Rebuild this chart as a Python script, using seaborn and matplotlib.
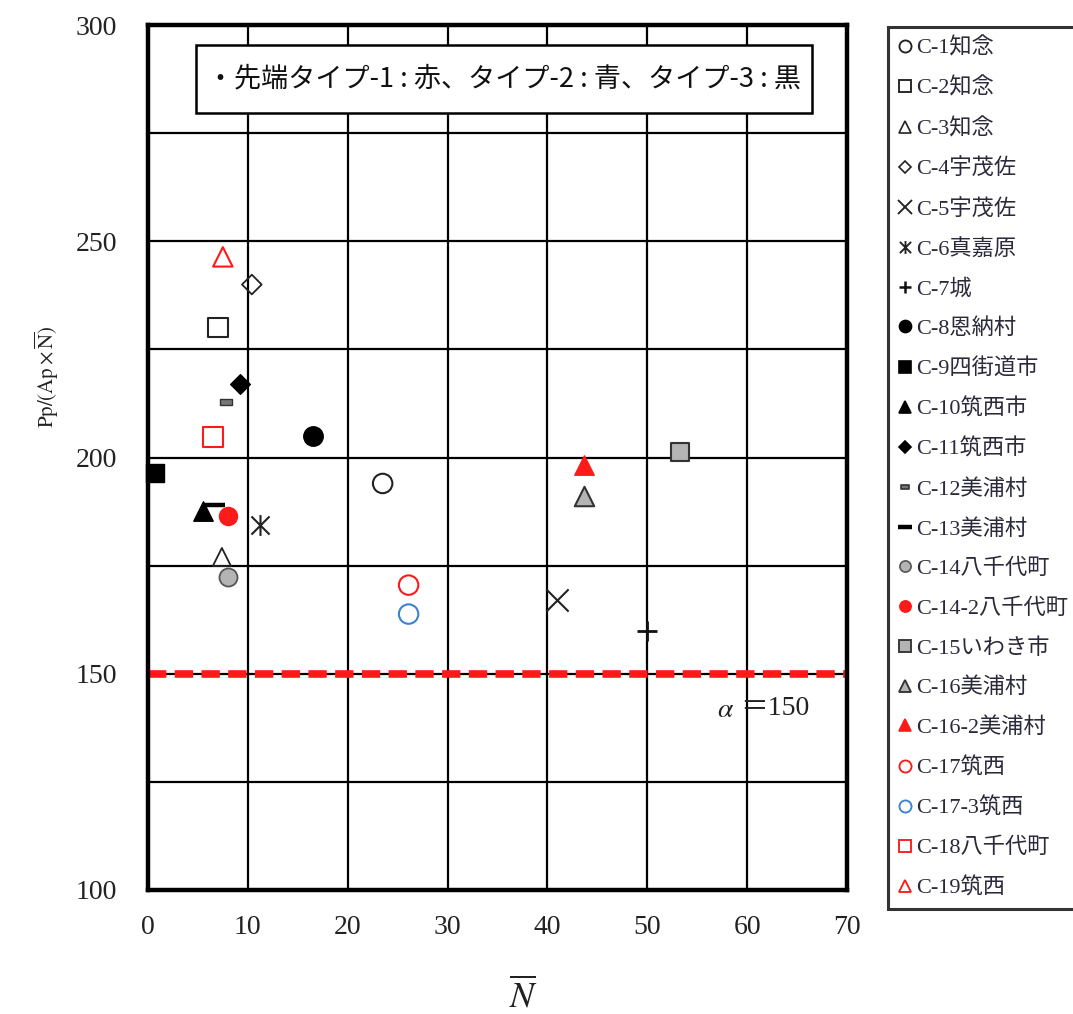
import numpy as np
import pandas as pd
import matplotlib
matplotlib.use("Agg")
import matplotlib.pyplot as plt
from matplotlib.path import Path
from matplotlib.lines import Line2D
from matplotlib.patches import Rectangle
import seaborn as sns

# ---- data -------------------------------------------------------------
sites = ["C-1知念", "C-2知念", "C-3知念", "C-4宇茂佐", "C-5宇茂佐", "C-6真嘉原",
         "C-7城", "C-8恩納村", "C-9四街道市", "C-10筑西市", "C-11筑西市",
         "C-12美浦村", "C-13美浦村", "C-14八千代町", "C-14-2八千代町",
         "C-15いわき市", "C-16美浦村", "C-16-2美浦村", "C-17筑西", "C-17-3筑西",
         "C-18八千代町", "C-19筑西"]
n_bar = [23.5, 7.0, 7.4, 10.4, 41.0, 11.2, 50.0, 16.5, 0.7, 5.5, 9.2,
         7.8, 6.6, 8.0, 8.0, 53.3, 43.7, 43.7, 26.1, 26.1, 6.5, 7.5]
pp_ratio = [194.0, 230.0, 177.0, 240.0, 167.0, 184.4, 160.0, 205.0, 196.5, 187.6, 217.0,
            212.8, 189.0, 172.4, 186.5, 201.3, 191.1, 198.3, 170.5, 163.8, 204.7, 246.4]
alpha_value = 150
x_ticks = [0, 10, 20, 30, 40, 50, 60, 70]
y_ticks = [100, 125, 150, 175, 200, 225, 250, 275, 300]
y_tick_labels = ["100", "", "150", "", "200", "", "250", "", "300"]
note_text = "・先端タイプ-1 : 赤、タイプ-2 : 青、タイプ-3 : 黒"

df = pd.DataFrame({"site": sites, "N": n_bar, "ratio": pp_ratio})

# ---- marker styles ----------------------------------------------------
RED = "#ff1a1a"
BLUE = "#3b82d0"
GRAY = "#b4b4b4"

asterisk = Path([(-1, -1), (1, 1), (-1, 1), (1, -1), (0, -1.15), (0, 1.15)],
                [Path.MOVETO, Path.LINETO, Path.MOVETO, Path.LINETO, Path.MOVETO, Path.LINETO])
small_bar = Path([(-1, -0.5), (1, -0.5), (1, 0.5), (-1, 0.5), (-1, -0.5)],
                 [Path.MOVETO, Path.LINETO, Path.LINETO, Path.LINETO, Path.CLOSEPOLY])

# marker, size(pt), face, edge, edge width
styles = {
    "C-1知念": ("o", 14, "none", "#222222", 1.5),
    "C-2知念": ("s", 14, "none", "#222222", 1.5),
    "C-3知念": ("^", 13, "none", "#222222", 1.3),
    "C-4宇茂佐": ("D", 10, "none", "#222222", 1.3),
    "C-5宇茂佐": ("x", 16, "#222222", "#222222", 1.5),
    "C-6真嘉原": (asterisk, 15, "#222222", "#222222", 1.5),
    "C-7城": ("+", 15, "#111111", "#111111", 2.0),
    "C-8恩納村": ("o", 14, "black", "black", 1.0),
    "C-9四街道市": ("s", 13, "black", "black", 1.0),
    "C-10筑西市": ("^", 14, "black", "black", 1.0),
    "C-11筑西市": ("D", 10, "black", "black", 1.0),
    "C-12美浦村": (small_bar, 8, "#777777", "#333333", 1.0),
    "C-13美浦村": ("_", 16, "black", "black", 3.2),
    "C-14八千代町": ("o", 13, GRAY, "#555555", 1.3),
    "C-14-2八千代町": ("o", 13, RED, RED, 1.0),
    "C-15いわき市": ("s", 13, GRAY, "#333333", 1.5),
    "C-16美浦村": ("^", 14, GRAY, "#333333", 1.5),
    "C-16-2美浦村": ("^", 14, RED, RED, 1.0),
    "C-17筑西": ("o", 14, "none", RED, 1.5),
    "C-17-3筑西": ("o", 14, "none", BLUE, 1.5),
    "C-18八千代町": ("s", 14, "none", RED, 1.5),
    "C-19筑西": ("^", 14, "none", RED, 1.5),
}

# ---- figure -----------------------------------------------------------
sns.set_theme(style="white")
plt.rcParams["font.family"] = ["Liberation Serif", "Noto Sans CJK JP", "DejaVu Sans"]
plt.rcParams["mathtext.fontset"] = "stix"

fig = plt.figure(figsize=(10.73, 10.14), dpi=100)
ax = fig.add_axes([0.1379, 0.1223, 0.6515, 0.8530])

ax.set_xlim(0, 70)
ax.set_ylim(100, 300)
ax.set_xticks(x_ticks)
ax.set_yticks(y_ticks)
ax.set_yticklabels(y_tick_labels)
ax.tick_params(axis="both", length=0, labelsize=20, colors="#222222")
ax.tick_params(axis="x", pad=18)
ax.tick_params(axis="y", pad=22)
ax.grid(True, color="black", linewidth=1.6, zorder=0)
ax.set_axisbelow(True)
for sp in ax.spines.values():
    sp.set_linewidth(3.2)
    sp.set_color("black")
    sp.set_zorder(5)

# threshold line alpha = 150
ax.axhline(alpha_value, color=RED, linewidth=5.5, linestyle=(0, (2.4, 1.1)), zorder=3)
ax.text(57.0, 141.5, r"$\alpha$", fontsize=20, ha="left", va="center",
        color="#222222", zorder=4)
ax.text(59.3, 142, "＝" + str(alpha_value), fontsize=20, ha="left", va="center",
        color="#222222", zorder=4)

# points
for _, row in df.iterrows():
    m, ms, fc, ec, lw = styles[row["site"]]
    sns.scatterplot(x=[row["N"]], y=[row["ratio"]], ax=ax, marker=m, s=ms ** 2,
                    color=ec, facecolor=fc, edgecolor=ec, linewidth=lw,
                    zorder=6, clip_on=False, legend=False)

# note box at the top of the panel
ax.add_patch(Rectangle((0.0687, 0.898), 0.8813, 0.079, transform=ax.transAxes,
                       facecolor="white", edgecolor="black", linewidth=1.8, zorder=4))
ax.text(0.5095, 0.9375, note_text, transform=ax.transAxes, ha="center", va="center",
        fontsize=19.5, family=["Noto Sans CJK JP", "DejaVu Sans"], color="#111111", zorder=5)

# axis labels
ax.set_xlabel(r"$\overline{N}$", fontsize=26, color="#222222", va="center")
ax.xaxis.set_label_coords(0.5375, -0.123)
ax.set_ylabel(r"$\mathrm{Pp/(Ap}\times\overline{\mathrm{N}}\mathrm{)}$", fontsize=15, color="#222222")
ax.yaxis.set_label_coords(-0.124, 0.593)

# legend
handles = []
for name in sites:
    m, ms, fc, ec, lw = styles[name]
    lms = ms * 0.62 if name != "C-12美浦村" else ms * 0.75
    handles.append(Line2D([], [], linestyle="none", marker=m, markersize=lms,
                          markerfacecolor=fc, markeredgecolor=ec,
                          markeredgewidth=max(lw * 0.9, 1.2) if name != "C-13美浦村" else 3.2))
leg = fig.legend(handles, sites, loc="upper left", bbox_to_anchor=(0.8276, 0.9734),
                 frameon=True, fancybox=False, fontsize=16, handlelength=0.6,
                 handletextpad=0.2, labelspacing=0.86, borderpad=0.45, borderaxespad=0)
leg.get_frame().set_edgecolor("black")
leg.get_frame().set_linewidth(2.2)
for t in leg.get_texts():
    t.set_color("#2a2a3a")

fig.savefig("out.png", dpi=100)
